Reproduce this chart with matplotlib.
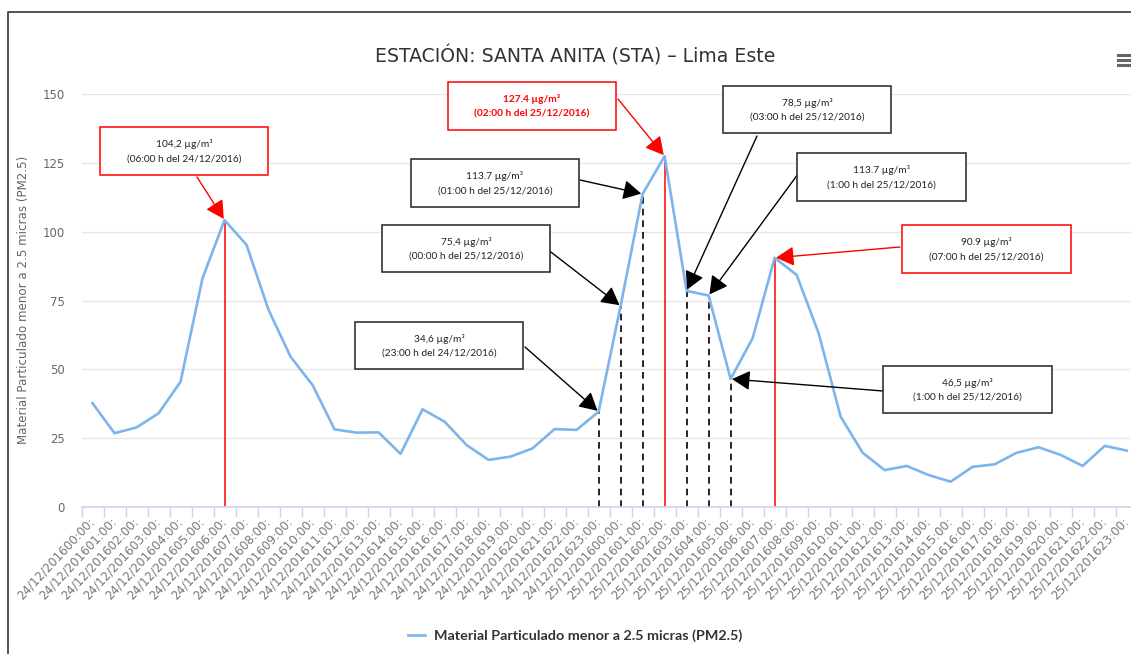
import matplotlib.pyplot as plt
from matplotlib.patches import Rectangle
from matplotlib.lines import Line2D

W, H = 1131, 654

# hourly PM2.5 readings, 24/12/2016 00:00 .. 25/12/2016 23:00
pm25 = [37.7, 26.8, 28.9, 34.0, 45.5, 83.1, 104.2, 95.2, 71.6, 54.6, 44.3, 28.2,
        27.0, 27.1, 19.3, 35.5, 31.0, 22.5, 17.1, 18.3, 21.3, 28.3, 28.0, 34.6,
        73.0, 113.7, 127.4, 78.5, 76.8, 46.5, 61.3, 90.5, 84.3, 63.1, 32.8, 19.7,
        13.4, 14.9, 11.6, 9.2, 14.6, 15.5, 19.7, 21.7, 18.9, 14.9, 22.2, 20.5]
days = ['24/12/2016', '25/12/2016']
hours = ['%02d:00:' % h for h in range(24)]
tick_labels = [d + h for d in days for h in hours]

# callouts: point index, line 1, line 2, colour
callouts = [
    (6, '104,2 µg/m³', '(06:00 h del 24/12/2016)', 'red'),
    (26, '127.4 µg/m³', '(02:00 h del 25/12/2016)', 'red'),
    (25, '113.7 µg/m³', '(01:00 h del 25/12/2016)', 'black'),
    (24, '75,4 µg/m³', '(00:00 h del 25/12/2016)', 'black'),
    (23, '34,6 µg/m³', '(23:00 h del 24/12/2016)', 'black'),
    (27, '78,5 µg/m³', '(03:00 h del 25/12/2016)', 'black'),
    (28, '113.7 µg/m³', '(1:00 h del 25/12/2016)', 'black'),
    (31, '90.9 µg/m³', '(07:00 h del 25/12/2016)', 'red'),
    (29, '46,5 µg/m³', '(1:00 h del 25/12/2016)', 'black'),
]
red_marks = [6, 26, 31]
dashed_marks = [23, 24, 25, 27, 28, 29]

# box (left, top, right, bottom) and arrow start, in pixels
box_px = [(100, 127, 268, 175), (448, 82, 616, 130), (411, 159, 579, 207),
          (382, 225, 550, 272), (355, 322, 523, 369), (723, 86, 891, 133),
          (797, 153, 966, 201), (902, 225, 1071, 273), (883, 366, 1052, 413)]
arrow_px = [(197, 177), (618, 99), (580, 180), (547, 249), (525, 347),
            (757, 136), (801, 170), (900, 247), (883, 391)]


def fx(px):
    return px / W


def fy(py):
    return 1 - py / H


fig = plt.figure(figsize=(W / 100, H / 100), dpi=100)
ax = fig.add_axes([fx(81.5), fy(507), (1137.7 - 81.5) / W, (507 - 94) / H])

x = list(range(len(pm25)))
ax.plot(x, pm25, color='#7cb5ec', lw=1.9, zorder=3)

for i in red_marks:
    ax.vlines(i, 0, pm25[i], color='#ff0000', lw=1.1, zorder=2)
for i in dashed_marks:
    ax.vlines(i, 0, pm25[i], color='black', lw=1.2, linestyles=(0, (4, 3)), zorder=2)

ax.set_xlim(-0.5, len(pm25) - 0.5)
ax.set_ylim(0, 150)
ax.set_yticks([0, 25, 50, 75, 100, 125, 150])
ax.grid(axis='y', color='#e6e6e6', lw=1)
ax.set_axisbelow(True)
for s in ['top', 'right', 'left']:
    ax.spines[s].set_visible(False)
ax.spines['bottom'].set_color('#ccd6eb')
ax.spines['bottom'].set_linewidth(1.2)
ax.tick_params(axis='y', length=0, pad=12, labelsize=8.4, labelcolor='#666666')

ax.set_xticks(x)
ax.set_xticklabels(tick_labels, rotation=47, ha='right', va='center',
                   rotation_mode='anchor', fontsize=8.6, color='#777777')
ax.set_xticks([i - 0.5 for i in range(len(pm25) + 1)], minor=True)
ax.tick_params(axis='x', which='major', length=0, pad=9)
ax.tick_params(axis='x', which='minor', length=7, color='#ccd6eb', width=1)

ax.set_ylabel('Material Particulado menor a 2.5 micras (PM2.5)', fontsize=8.6, color='#666666')
ax.yaxis.set_label_coords(fx(30), fy(300), transform=fig.transFigure)

fig.text(fx(575), fy(56), 'ESTACIÓN: SANTA ANITA (STA) – Lima Este', ha='center', va='center',
         fontsize=13.6, color='#333333')

# export menu icon (clipped at the right edge like the reference)
for yy in (55, 60, 65):
    fig.add_artist(Line2D([fx(1118), 1], [fy(yy), fy(yy)], transform=fig.transFigure,
                          color='#666666', lw=2.2))

# callout boxes and arrows
for (i, l1, l2, c), (x0, y0, x1, y1), (ax0, ay0) in zip(callouts, box_px, arrow_px):
    edge = '#ff0000' if c == 'red' else '#222222'
    fig.patches.append(Rectangle((fx(x0), fy(y1)), (x1 - x0) / W, (y1 - y0) / H,
                                 transform=fig.transFigure, facecolor='white',
                                 edgecolor=edge, lw=1.1, zorder=5))
    bold = i == 26
    tc = '#ff0000' if bold else '#222222'
    cx, cy = fx((x0 + x1) / 2), fy((y0 + y1) / 2)
    fig.text(cx, cy + 7 / H, l1, ha='center', va='center', fontsize=7.3, family='Lato',
             color=tc, fontweight='bold' if bold else 'normal', zorder=6)
    fig.text(cx, cy - 8 / H, l2, ha='center', va='center', fontsize=7.3, family='Lato',
             color=tc, fontweight='bold' if bold else 'normal', zorder=6)
    ac = '#ff0000' if c == 'red' else 'black'
    ax.annotate('', xy=(i, pm25[i]), xycoords='data',
                xytext=(fx(ax0), fy(ay0)), textcoords='figure fraction',
                arrowprops=dict(arrowstyle='-|>,head_length=0.55,head_width=0.3',
                                color=ac, lw=1.0, mutation_scale=20, shrinkA=0, shrinkB=1),
                annotation_clip=False, zorder=7)

# legend
handle = Line2D([], [], color='#7cb5ec', lw=1.9)
fig.legend([handle], ['Material Particulado menor a 2.5 micras (PM2.5)'], loc='center',
           bbox_to_anchor=(fx(575), fy(636)), frameon=False, handlelength=1.2,
           handletextpad=0.6, prop={'family': 'Lato', 'weight': 'bold', 'size': 10.4},
           labelcolor='#333333')

# outer frame
fig.add_artist(Line2D([fx(8), fx(8), 1], [0, fy(12), fy(12)], transform=fig.transFigure,
                      color='#444444', lw=1.3))

fig.savefig('out.png', dpi=100)
